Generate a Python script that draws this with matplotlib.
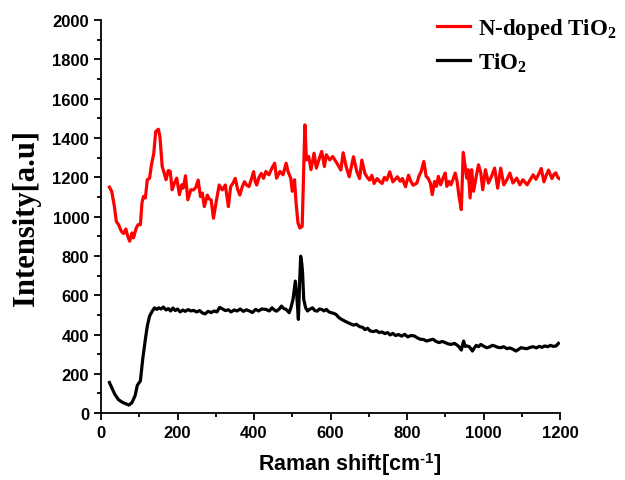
import numpy as np
import matplotlib
matplotlib.use('Agg')
import matplotlib.pyplot as plt

# Raman spectra
shift_n = [22, 28, 35, 40, 46, 53, 59, 65, 70, 75, 81, 85, 92, 97, 103, 107, 111, 116, 121, 127,
           132, 138, 143, 150, 154, 160, 164, 170, 176, 181, 186, 192, 198, 205, 211, 215, 221, 227,
           235, 242, 248, 254, 260, 265, 270, 278, 283, 288, 294, 302, 309, 317, 325, 333, 339, 345,
           351, 357, 363, 369, 375, 381, 387, 393, 399, 403, 407, 413, 419, 425, 431, 439, 447, 454,
           459, 468, 476, 484, 489, 496, 500, 506, 510, 515, 520, 526, 530, 533, 537, 543, 549, 557,
           563, 571, 577, 584, 589, 598, 606, 614, 622, 627, 633, 641, 649, 655, 660, 669, 676, 682,
           690, 696, 702, 708, 714, 722, 728, 735, 741, 747, 755, 763, 769, 775, 782, 788, 796, 804,
           810, 816, 826, 831, 837, 844, 850, 855, 861, 866, 872, 877, 882, 888, 894, 900, 904, 910,
           915, 920, 926, 931, 936, 942, 947, 952, 956, 960, 965, 969, 974, 981, 987, 993, 998, 1005,
           1013, 1021, 1029, 1037, 1045, 1053, 1061, 1069, 1077, 1087, 1095, 1103, 1114, 1122, 1130,
           1137, 1143, 1151, 1158, 1164, 1170, 1179, 1184, 1189, 1194, 1198]
int_n = [1150, 1129, 1052, 976, 959, 926, 914, 937, 900, 875, 917, 892, 942, 959, 959, 1069, 1103,
         1095, 1188, 1196, 1264, 1323, 1433, 1445, 1408, 1255, 1230, 1188, 1235, 1230, 1137, 1171,
         1196, 1112, 1162, 1145, 1208, 1086, 1137, 1136, 1150, 1186, 1102, 1120, 1051, 1110, 1090,
         1085, 992, 1085, 1161, 1136, 1161, 1051, 1153, 1170, 1195, 1140, 1110, 1150, 1178, 1160,
         1153, 1190, 1229, 1180, 1161, 1200, 1220, 1195, 1230, 1213, 1247, 1272, 1196, 1230, 1213,
         1272, 1230, 1196, 1129, 1188, 1069, 968, 942, 951, 1255, 1467, 1289, 1306, 1239, 1323, 1247,
         1298, 1332, 1255, 1315, 1289, 1306, 1281, 1255, 1237, 1325, 1254, 1203, 1260, 1305, 1228,
         1194, 1288, 1220, 1200, 1186, 1210, 1169, 1194, 1180, 1169, 1200, 1186, 1228, 1177, 1190,
         1203, 1180, 1194, 1152, 1211, 1180, 1160, 1171, 1205, 1230, 1281, 1205, 1196, 1171, 1112,
         1179, 1154, 1205, 1162, 1196, 1222, 1154, 1179, 1162, 1188, 1222, 1179, 1103, 1036, 1327,
         1256, 1196, 1239, 1095, 1239, 1129, 1205, 1264, 1222, 1137, 1239, 1171, 1205, 1247, 1145,
         1247, 1162, 1188, 1222, 1171, 1196, 1162, 1188, 1162, 1188, 1213, 1190, 1211, 1245, 1177,
         1210, 1237, 1194, 1215, 1223, 1200, 1194]

shift_t = [22, 28, 36, 46, 57, 73, 81, 89, 95, 103, 109, 116, 121, 127, 134, 140, 146, 151, 157,
           163, 170, 176, 182, 188, 194, 200, 207, 214, 220, 228, 235, 242, 250, 258, 265, 272, 280,
           288, 296, 303, 310, 318, 325, 333, 340, 348, 356, 364, 372, 380, 388, 396, 404, 412, 420,
           431, 440, 447, 453, 459, 466, 472, 478, 484, 492, 497, 502, 508, 512, 516, 519, 522, 525,
           527, 530, 535, 540, 545, 553, 559, 565, 571, 577, 583, 589, 596, 602, 608, 614, 622, 629,
           636, 644, 652, 660, 668, 676, 684, 690, 697, 704, 712, 720, 727, 735, 742, 749, 756, 763,
           770, 778, 786, 794, 802, 810, 819, 827, 835, 843, 851, 860, 868, 876, 884, 892, 900, 908,
           916, 924, 932, 937, 942, 948, 952, 956, 963, 971, 976, 981, 987, 993, 1001, 1009, 1017,
           1023, 1029, 1037, 1045, 1053, 1061, 1069, 1077, 1085, 1092, 1098, 1106, 1114, 1122, 1130,
           1138, 1146, 1153, 1160, 1168, 1175, 1182, 1190, 1196]
int_t = [156, 130, 96, 68, 54, 41, 54, 88, 142, 164, 274, 376, 443, 494, 519, 536, 528, 536, 530,
         540, 525, 532, 520, 535, 522, 530, 515, 525, 518, 527, 520, 523, 515, 522, 510, 505, 518,
         512, 520, 515, 538, 530, 522, 526, 515, 525, 520, 530, 518, 526, 520, 512, 528, 520, 530,
         528, 520, 536, 525, 519, 530, 545, 532, 528, 511, 540, 579, 672, 596, 477, 650, 799, 760,
         714, 579, 536, 520, 528, 536, 522, 519, 530, 528, 520, 528, 515, 511, 508, 503, 486, 477,
         470, 462, 455, 448, 452, 440, 437, 425, 432, 418, 415, 420, 410, 413, 405, 410, 398, 406,
         395, 400, 392, 401, 388, 395, 393, 383, 376, 375, 367, 372, 376, 365, 359, 365, 359, 352,
         350, 355, 345, 335, 321, 367, 340, 342, 338, 316, 332, 345, 338, 350, 340, 333, 338,
         345, 342, 335, 333, 338, 328, 332, 325, 316, 325, 333, 330, 328, 335, 338,
         332, 340, 335, 342, 338, 345, 340, 342, 355]

serif_bold = {'family': 'Liberation Serif', 'weight': 'bold'}
plt.rcParams['font.family'] = 'Liberation Sans'
plt.rcParams['font.weight'] = 'bold'
plt.rcParams['mathtext.fontset'] = 'custom'
plt.rcParams['mathtext.rm'] = 'Liberation Serif:bold'
plt.rcParams['mathtext.it'] = 'Liberation Serif:bold'
plt.rcParams['mathtext.bf'] = 'Liberation Serif:bold'
plt.rcParams['mathtext.sf'] = 'Liberation Sans:bold'

fig = plt.figure(figsize=(6.25, 4.81), dpi=100)
ax = fig.add_axes([0.1616, 0.139, 0.7344, 0.817])

ax.plot(shift_n, int_n, color='#ff0000', lw=2.3, label=r'N-doped TiO$_2$')
ax.plot(shift_t, int_t, color='black', lw=2.3, label=r'TiO$_2$')

ax.set_xlim(0, 1200)
ax.set_ylim(0, 2000)
ax.set_xticks(np.arange(0, 1201, 200))
ax.set_xticks(np.arange(100, 1200, 200), minor=True)
ax.set_yticks(np.arange(0, 2001, 200))
ax.set_yticks(np.arange(100, 2000, 200), minor=True)
ax.tick_params(which='major', direction='out', length=5, width=1.3, labelsize=12)
ax.tick_params(which='minor', direction='out', length=3, width=1.3)
for lab in ax.get_xticklabels() + ax.get_yticklabels():
    lab.set_fontweight('bold')

for side in ['top', 'right']:
    ax.spines[side].set_visible(False)
for side in ['left', 'bottom']:
    ax.spines[side].set_linewidth(1.3)

# hyphen (U+2010) instead of the math minus, as in the original
ax.set_xlabel('Raman shift[cm$^{\\mathsf{\u20101}}$]', fontsize=15.5, fontweight='bold')
ax.xaxis.set_label_coords(0.542, -0.095)
ax.set_ylabel('Intensity[a.u]', fontdict=serif_bold, fontsize=22, labelpad=8)

leg = ax.legend(loc='upper left', bbox_to_anchor=(0.732, 1.01), frameon=False,
                prop={'family': 'Liberation Serif', 'weight': 'bold', 'size': 16.5},
                borderpad=0, borderaxespad=0,
                handlelength=1.45, handletextpad=0.35, labelspacing=0.4)

fig.savefig('out.png', dpi=100)
